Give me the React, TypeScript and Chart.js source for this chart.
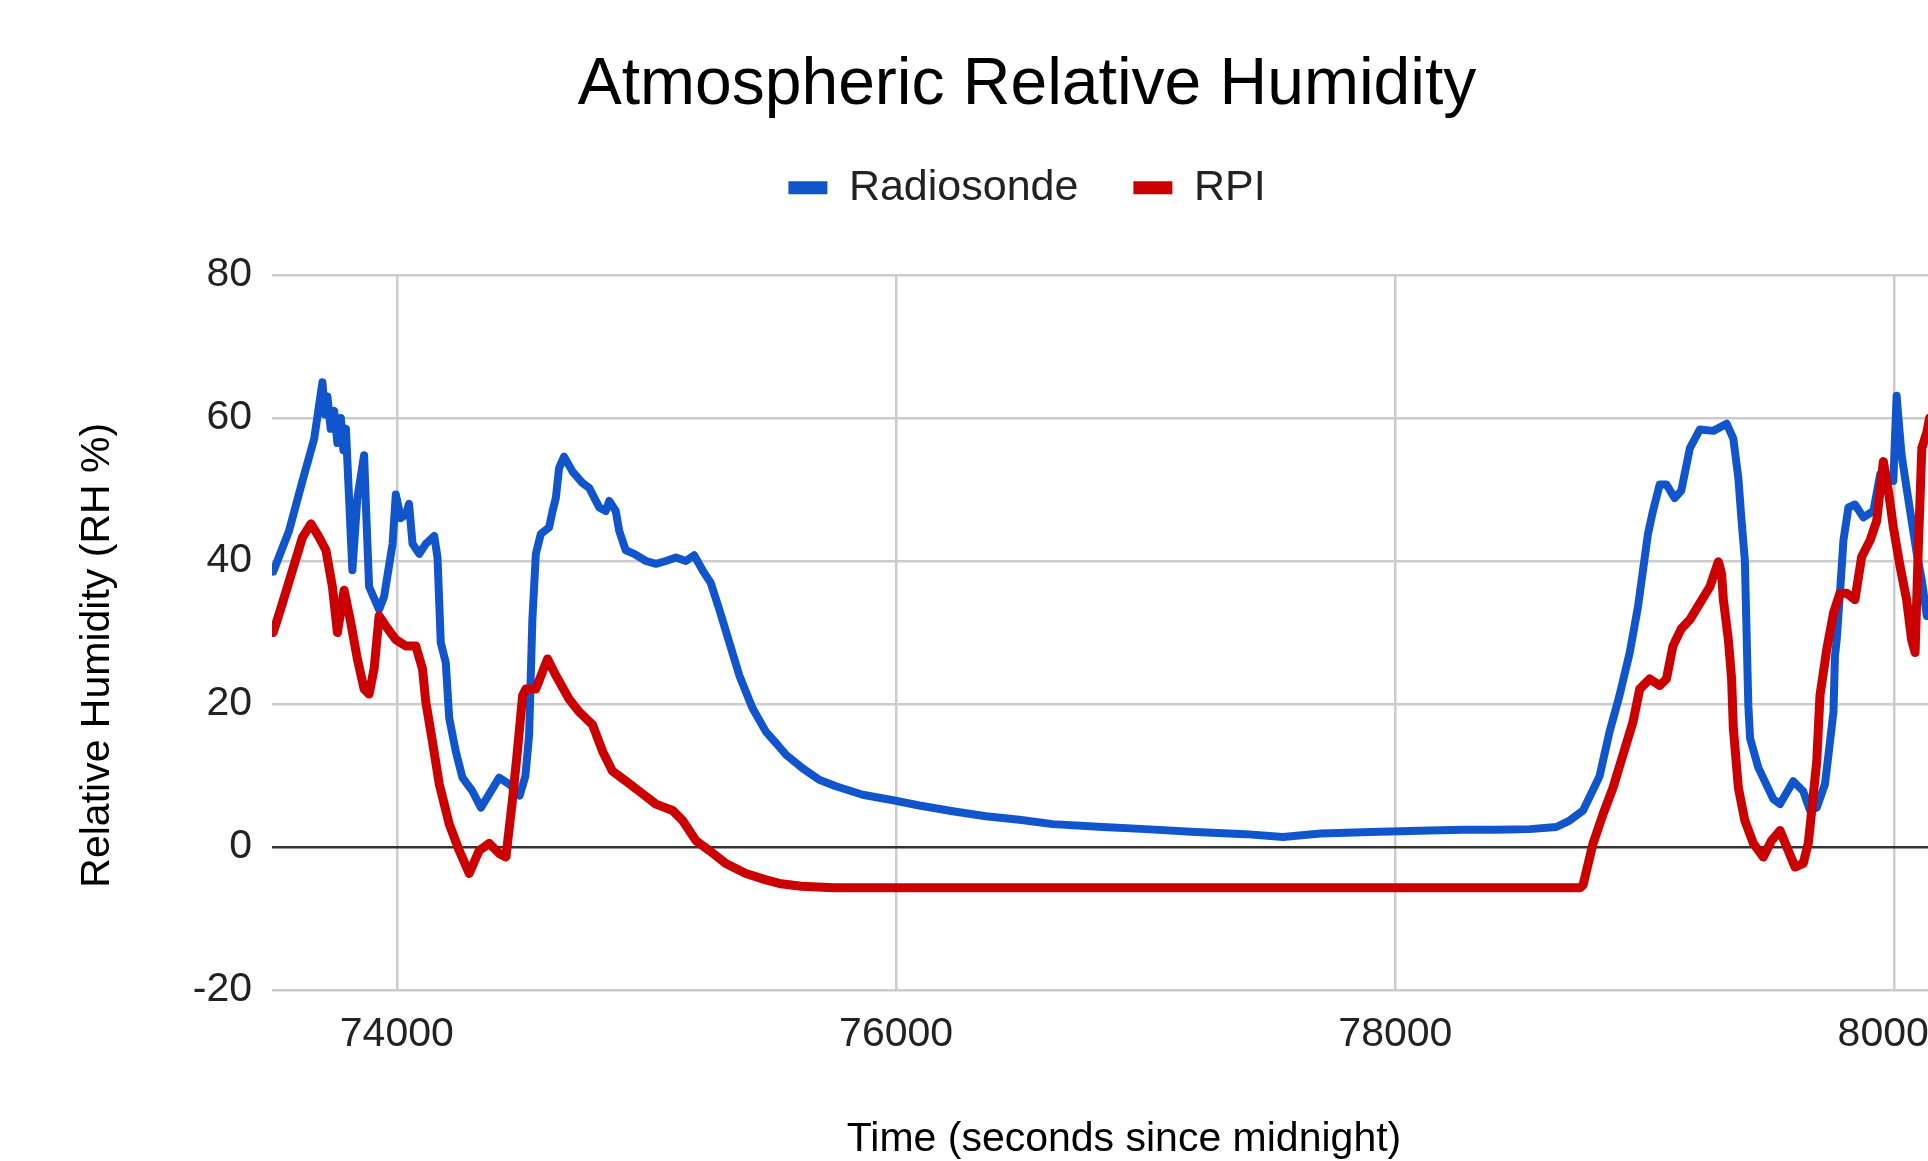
import React, { useEffect, useRef } from "react";
import { Chart, registerables } from "chart.js";

Chart.register(...registerables);

const TITLE = "Atmospheric Relative Humidity";
const X_TITLE = "Time (seconds since midnight)";
const Y_TITLE = "Relative Humidity (RH %)";
const SERIES_NAMES = ["Radiosonde", "RPI"];

const X_TICKS = [74000, 76000, 78000, 80000];
const Y_TICKS = [-20, 0, 20, 40, 60, 80];

const RADIOSONDE_T = [
  73505, 73568, 73622, 73669, 73702, 73712, 73722, 73735, 73749, 73762,
  73776, 73786, 73796, 73822, 73842, 73869, 73876, 73889, 73929, 73949,
  73983, 73996, 74016, 74036, 74049, 74063, 74090, 74116, 74150, 74163,
  74176, 74196, 74210, 74236, 74263, 74303, 74337, 74370, 74410, 74450,
  74477, 74492, 74515, 74530, 74543, 74557, 74577, 74610, 74624, 74637,
  74650, 74670, 74704, 74744, 74771, 74811, 74837, 74851, 74877, 74891,
  74917, 74951, 74998, 75038, 75078, 75118, 75158, 75191, 75225, 75258,
  75292, 75332, 75372, 75425, 75479, 75525, 75559, 75626, 75692, 75759,
  75866, 75993, 76093, 76227, 76360, 76494, 76628, 76828, 77000, 77200,
  77400, 77550, 77700, 77900, 78137, 78271, 78404, 78538, 78645, 78698,
  78752, 78818, 78858, 78898, 78939, 78972, 78992, 79012, 79032, 79059,
  79086, 79119, 79145, 79180, 79220, 79274, 79327, 79354, 79374, 79387,
  79400, 79414, 79421, 79454, 79514, 79541, 79594, 79634, 79661, 79688,
  79721, 79735, 79755, 79761, 79768, 79781, 79795, 79815, 79841, 79875,
  79915, 79942, 79995, 80008, 80015, 80028, 80048, 80062, 80089, 80109,
  80129,
];
const RADIOSONDE_RH = [
  38.5, 44.2, 51.2, 57.1, 65.0, 60.5, 63.0, 58.5, 61.0, 56.5,
  60.0, 55.5, 58.5, 38.7, 48.8, 54.8, 48.0, 36.4, 33.2, 35.0,
  42.4, 49.3, 46.0, 46.5, 48.0, 42.4, 41.0, 42.4, 43.5, 40.5,
  28.6, 25.8, 18.0, 13.4, 9.7, 7.8, 5.5, 7.4, 9.7, 8.8,
  7.8, 7.2, 9.9, 15.7, 31.8, 41.0, 43.8, 44.7, 47.0, 48.8,
  53.0, 54.6, 52.5, 50.9, 50.2, 47.5, 47.0, 48.4, 47.0, 44.2,
  41.5, 41.0, 40.0, 39.6, 40.0, 40.5, 40.0, 40.8, 38.7, 36.9,
  33.2, 28.6, 24.0, 19.4, 16.1, 14.3, 12.9, 11.0, 9.4, 8.5,
  7.3, 6.5, 5.8, 5.0, 4.3, 3.8, 3.2, 2.8, 2.5, 2.1,
  1.8, 1.4, 1.9, 2.1, 2.3, 2.4, 2.4, 2.5, 2.8, 3.7,
  5.1, 9.9, 16.1, 21.2, 27.2, 33.6, 38.7, 43.8, 47.0, 50.7,
  50.7, 48.8, 49.8, 55.8, 58.4, 58.2, 59.2, 57.1, 51.6, 45.6,
  40.1, 19.8, 15.2, 11.1, 6.7, 6.0, 9.2, 7.8, 5.1, 5.5,
  8.8, 12.9, 18.9, 26.7, 29.0, 35.5, 42.9, 47.5, 47.9, 46.1,
  47.0, 52.1, 51.2, 63.1, 60.1, 54.8, 50.2, 47.0, 41.0, 37.3,
  32.3,
];

const RPI_T = [
  73505, 73542, 73582, 73622, 73656, 73689, 73716, 73742, 73762, 73789,
  73816, 73842, 73869, 73889, 73909, 73929, 73956, 73996, 74036, 74076,
  74103, 74116, 74143, 74170, 74210, 74250, 74290, 74330, 74370, 74410,
  74437, 74463, 74483, 74504, 74517, 74557, 74604, 74637, 74690, 74730,
  74784, 74824, 74864, 74918, 74971, 75038, 75105, 75145, 75198, 75252,
  75318, 75398, 75479, 75532, 75620, 75750, 76500, 77500, 78500, 78740,
  78752, 78792, 78832, 78872, 78912, 78952, 78979, 79019, 79059, 79086,
  79112, 79145, 79180, 79220, 79260, 79294, 79307, 79314, 79334, 79347,
  79354, 79374, 79400, 79434, 79474, 79507, 79541, 79568, 79601, 79634,
  79654, 79668, 79688, 79701, 79728, 79755, 79781, 79808, 79841, 79868,
  79902, 79928, 79955, 79975, 79995, 80022, 80048, 80068, 80082, 80095,
  80109, 80129, 80140,
];
const RPI_RH = [
  30.0, 34.1, 38.7, 43.3, 45.2, 43.3, 41.5, 36.4, 30.0, 35.9,
  31.3, 26.3, 22.1, 21.4, 24.9, 32.3, 30.9, 29.0, 28.1, 28.1,
  24.9, 20.3, 14.7, 8.8, 3.2, -0.5, -3.7, -0.5, 0.5, -0.9,
  -1.4, 6.5, 13.4, 21.2, 22.1, 22.1, 26.3, 24.0, 20.7, 18.9,
  17.1, 13.4, 10.6, 9.2, 7.8, 6.0, 5.1, 3.7, 0.9, -0.5,
  -2.3, -3.7, -4.6, -5.1, -5.5, -5.7, -5.7, -5.7, -5.7, -5.7,
  -5.3, 0.5, 4.6, 8.3, 12.9, 17.5, 22.1, 23.5, 22.6, 23.5,
  28.1, 30.5, 31.8, 34.1, 36.4, 39.9, 38.2, 34.6, 29.0, 23.5,
  16.6, 8.3, 3.7, 0.5, -1.4, 0.9, 2.3, 0.0, -2.8, -2.3,
  0.5, 5.1, 12.0, 21.2, 27.6, 32.7, 35.5, 35.5, 34.6, 40.6,
  42.9, 45.6, 53.9, 49.8, 44.7, 39.2, 34.6, 29.0, 27.2, 41.9,
  55.8, 58.0, 60.0,
];

const BLUE = "#1155cc";
const RED = "#cc0000";
const FONT = "'Liberation Sans', Arial, Helvetica, sans-serif";

const zip = (xs: number[], ys: number[]) => xs.map((x, i) => ({ x, y: ys[i] }));

export default function App() {
  const ref = useRef<HTMLCanvasElement | null>(null);

  useEffect(() => {
    if (!ref.current) return;
    const chart = new Chart(ref.current, {
      type: "scatter",
      data: {
        datasets: [
          {
            label: SERIES_NAMES[0],
            data: zip(RADIOSONDE_T, RADIOSONDE_RH),
            borderColor: BLUE,
            backgroundColor: BLUE,
            borderWidth: 8,
            borderJoinStyle: "round",
            borderCapStyle: "round",
            pointRadius: 0,
            pointHoverRadius: 0,
            showLine: true,
            tension: 0,
            order: 1,
            xAxisID: "x",
            yAxisID: "y",
          },
          {
            label: SERIES_NAMES[1],
            data: zip(RPI_T, RPI_RH),
            borderColor: RED,
            backgroundColor: RED,
            borderWidth: 9,
            borderJoinStyle: "round",
            borderCapStyle: "round",
            pointRadius: 0,
            pointHoverRadius: 0,
            showLine: true,
            tension: 0,
            order: 0,
            xAxisID: "x",
            yAxisID: "y",
          },
        ],
      },
      options: {
        animation: false,
        responsive: false,
        maintainAspectRatio: false,
        layout: { padding: 0 },
        plugins: {
          tooltip: { enabled: false },
          title: {
            display: true,
            text: TITLE,
            color: "#000000",
            font: { family: FONT, size: 66, weight: "normal", lineHeight: 1.2 },
            padding: { top: 46, bottom: -14 },
          },
          legend: {
            display: true,
            position: "top",
            weight: 1800,
            labels: {
              color: "#222222",
              font: { family: FONT, size: 43 },
              boxWidth: 39,
              boxHeight: 13,
              padding: 55,
              generateLabels: (c: any) =>
                Chart.defaults.plugins.legend.labels
                  .generateLabels(c)
                  .map((l: any) => ({ ...l, lineWidth: 0 }))
                  .sort((a: any, b: any) => a.datasetIndex - b.datasetIndex),
            },
          },
          subtitle: {
            display: true,
            text: "",
            weight: 1500,
            font: { family: FONT, size: 10, lineHeight: 1 },
            padding: { top: 45.8, bottom: 0 },
          },
        } as any,
        scales: {
          x: {
            type: "linear",
            position: "bottom",
            min: 73500,
            max: 80326,
            afterFit: (s: any) => {
              s.height = 180;
            },
            afterBuildTicks: (s: any) => {
              s.ticks = X_TICKS.map((value) => ({ value }));
            },
            ticks: {
              color: "#222222",
              font: { family: FONT, size: 41 },
              padding: 20,
              maxRotation: 0,
              autoSkip: false,
              callback: (v: any) => String(v),
            },
            grid: { color: "#cccccc", lineWidth: 2.5, drawTicks: false },
            border: { display: false },
            title: {
              display: true,
              text: X_TITLE,
              color: "#000000",
              font: { family: FONT, size: 41 },
              padding: { top: 56, bottom: 5.4 },
            },
          },
          y: {
            type: "linear",
            position: "left",
            min: -20,
            max: 80,
            afterFit: (s: any) => {
              s.width = 272;
            },
            afterBuildTicks: (s: any) => {
              s.ticks = Y_TICKS.map((value) => ({ value }));
            },
            ticks: {
              color: "#222222",
              font: { family: FONT, size: 41 },
              padding: 20,
              callback: (v: any) => String(v),
            },
            grid: {
              color: (ctx: any) => (ctx.tick && ctx.tick.value === 0 ? "#333333" : "#cccccc"),
              lineWidth: 2.5,
              drawTicks: false,
            },
            border: { display: false },
            title: {
              display: true,
              text: Y_TITLE + "\u00a0\u00a0\u00a0\u00a0",
              color: "#000000",
              font: { family: FONT, size: 41 },
              padding: { top: 73, bottom: 0 },
            },
          },
          yR: {
            type: "linear",
            axis: "y",
            position: "right",
            display: true,
            afterFit: (s: any) => {
              s.width = 78;
            },
            ticks: { display: false },
            grid: { display: false, drawTicks: false },
            border: { display: false },
          },
        } as any,
      },
    });
    return () => chart.destroy();
  }, []);

  return (
    <div
      style={{
        position: "fixed",
        left: 0,
        top: 0,
        width: 1928,
        height: 1161,
        overflow: "hidden",
        background: "#ffffff",
      }}
    >
      <canvas ref={ref} width={2054} height={1170} style={{ width: 2054, height: 1170, display: "block" }} />
    </div>
  );
}
